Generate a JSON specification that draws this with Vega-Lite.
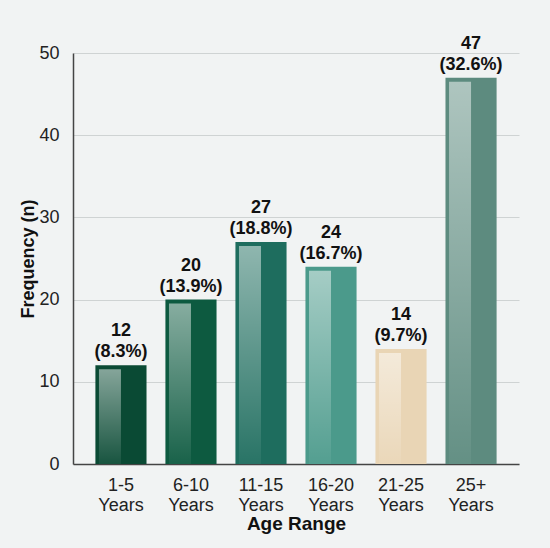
{
  "$schema": "https://vega.github.io/schema/vega-lite/v6.json",
  "autosize": "none",
  "width": 446,
  "height": 411,
  "padding": {"left": 73, "top": 53, "right": 31, "bottom": 84},
  "background": "#f1f3f3",
  "config": {
    "font": "Liberation Sans, sans-serif",
    "view": {"stroke": null}
  },
  "data": {
    "values": [
      {"age": "1-5 Years", "n": 12, "pct": "(8.3%)"},
      {"age": "6-10 Years", "n": 20, "pct": "(13.9%)"},
      {"age": "11-15 Years", "n": 27, "pct": "(18.8%)"},
      {"age": "16-20 Years", "n": 24, "pct": "(16.7%)"},
      {"age": "21-25 Years", "n": 14, "pct": "(9.7%)"},
      {"age": "25+ Years", "n": 47, "pct": "(32.6%)"}
    ]
  },
  "encoding": {
    "x": {
      "field": "age",
      "type": "nominal",
      "sort": null,
      "scale": {"paddingInner": 0.27, "paddingOuter": 0.32},
      "axis": {
        "title": "Age Range",
        "titleFontSize": 19,
        "titleFontWeight": "bold",
        "titleColor": "#111",
        "titlePadding": 0,
        "labelAngle": 0,
        "labelFontSize": 18,
        "labelColor": "#222",
        "labelExpr": "split(datum.value, ' ')",
        "labelLineHeight": 20,
        "labelPadding": 12,
        "ticks": false,
        "domainColor": "#444",
        "domainWidth": 1.5
      }
    },
    "y": {
      "field": "n",
      "type": "quantitative",
      "scale": {"domain": [0, 50]},
      "axis": {
        "title": "Frequency (n)",
        "titleFontSize": 18,
        "titleFontWeight": "bold",
        "titleColor": "#111",
        "titlePadding": 1,
        "values": [0, 10, 20, 30, 40, 50],
        "labelFontSize": 18,
        "labelColor": "#222",
        "labelPadding": 14,
        "ticks": false,
        "domainColor": "#444",
        "domainWidth": 1.5,
        "gridColor": "#cfd3d3",
        "gridWidth": 1
      }
    }
  },
  "layer": [
    {
      "mark": {"type": "bar"},
      "encoding": {
        "color": {
          "field": "age",
          "type": "nominal",
          "sort": null,
          "scale": {
            "range": ["#0a4a34", "#0d5a40", "#1e6d5e", "#4b9a8b", "#e9d5b5", "#5d8b7f"]
          },
          "legend": null
        }
      }
    },
    {
      "mark": {
        "type": "bar",
        "width": 22,
        "xOffset": -11,
        "yOffset": 4,
        "color": {
          "gradient": "linear",
          "x1": 0, "y1": 0, "x2": 0, "y2": 1,
          "stops": [
            {"offset": 0, "color": "rgba(255,255,255,0.5)"},
            {"offset": 1, "color": "rgba(255,255,255,0.04)"}
          ]
        },
        "clip": true
      },
      "encoding": {}
    },
    {
      "mark": {
        "type": "text",
        "baseline": "bottom",
        "dy": -4,
        "fontSize": 18,
        "fontWeight": "bold",
        "color": "#111"
      },
      "encoding": {
        "text": {"field": "pct"}
      }
    },
    {
      "mark": {
        "type": "text",
        "baseline": "bottom",
        "dy": -25,
        "fontSize": 18,
        "fontWeight": "bold",
        "color": "#111"
      },
      "encoding": {
        "text": {"field": "n", "type": "quantitative"}
      }
    }
  ]
}
